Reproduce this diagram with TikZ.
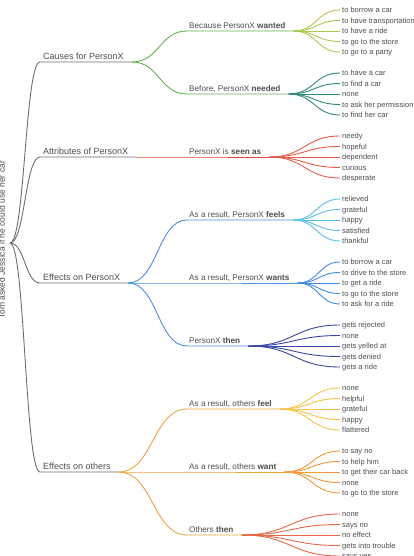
\documentclass[tikz,border=0pt]{standalone}
\usepackage{fontspec}
\setmainfont{Liberation Sans}
\usetikzlibrary{calc}

\definecolor{txtgray}{HTML}{4D4D4D}
\definecolor{rootgray}{HTML}{6E6E6E}
\definecolor{causegreen}{HTML}{62B14F}
\definecolor{wantlime}{HTML}{A7CB4D}
\definecolor{needteal}{HTML}{2E8B78}
\definecolor{attrred}{HTML}{E8473C}
\definecolor{seenred}{HTML}{E85B4B}
\definecolor{effblue}{HTML}{4A8FE0}
\definecolor{feelcyan}{HTML}{5CC0E8}
\definecolor{wantsblue}{HTML}{3E8EE8}
\definecolor{thenindigo}{HTML}{3846A8}
\definecolor{othorange}{HTML}{F0A33A}
\definecolor{ofeelgold}{HTML}{F6C445}
\definecolor{owantorange}{HTML}{F29838}
\definecolor{othenred}{HTML}{E8694A}

\begin{document}
\begin{tikzpicture}[
        x=1pt, y=-1pt,
        rootlabel/.style={rotate=90, anchor=base, inner sep=0pt, text=txtgray, font=\fontsize{8.5}{10}\selectfont},
        toplabel/.style={anchor=base west, inner sep=0pt, text=txtgray, font=\fontsize{9}{11}\selectfont},
        midlabel/.style={anchor=base west, inner sep=0pt, text=txtgray, font=\fontsize{8.2}{10}\selectfont},
        leaflabel/.style={anchor=base west, inner sep=0pt, text=txtgray, font=\fontsize{7.5}{9}\selectfont},
        link/.style={line width=0.9pt},
        sbranch/.style={to path={let \p1=(\tikztostart), \p2=(\tikztotarget), \n1={(\x2-\x1)/2} in .. controls ({\x1+\n1},\y1) and ({\x2-\n1},\y2) .. (\tikztotarget)}}
    ]
    \useasboundingbox (0,0) rectangle (413,556);
    \clip (0,0) rectangle (413,556);

    % Root
    \coordinate (root) at (10,243);
    \node[rootlabel] (rootT) at (5,240) {Tom asked Jessica if he could use her car};

    % First level
    \coordinate (causes) at (40,62);
    \node[toplabel] (causesT) at (43,59.5) {Causes for PersonX};
    \coordinate (causesJ) at ($(causesT.east |- causes)+(8,0)$);
    \coordinate (attr) at (40,157);
    \node[toplabel] (attrT) at (43,154.5) {Attributes of PersonX};
    \coordinate (attrJ) at ($(attrT.east |- attr)+(8,0)$);
    \coordinate (effx) at (40,283);
    \node[toplabel] (effxT) at (43,280.5) {Effects on PersonX};
    \coordinate (effxJ) at ($(effxT.east |- effx)+(8,0)$);
    \coordinate (effo) at (40,472);
    \node[toplabel] (effoT) at (43,469.5) {Effects on others};
    \coordinate (effoJ) at ($(effoT.east |- effo)+(8,0)$);

    \draw[link, rootgray] (root) to[sbranch] (causes) -- (causesJ);
    \draw[link, rootgray] (root) to[sbranch] (attr) -- (attrJ);
    \draw[link, rootgray] (root) to[sbranch] (effx) -- (effxJ);
    \draw[link, rootgray] (root) to[sbranch] (effo) -- (effoJ);

    % Second level
    \coordinate (wanted) at (187,31);
    \node[midlabel] (wantedT) at (189,28.3) {Because PersonX \textbf{wanted}};
    \coordinate (wantedJ) at ($(wantedT.east |- wanted)+(8,0)$);
    \coordinate (needed) at (187,94);
    \node[midlabel] (neededT) at (189,91.3) {Before, PersonX \textbf{needed}};
    \coordinate (neededJ) at ($(neededT.east |- needed)+(8,0)$);
    \coordinate (seen) at (187,157);
    \node[midlabel] (seenT) at (189,154.3) {PersonX is \textbf{seen as}};
    \coordinate (seenJ) at ($(seenT.east |- seen)+(8,0)$);
    \coordinate (feels) at (187,220);
    \node[midlabel] (feelsT) at (189,217.3) {As a result, PersonX \textbf{feels}};
    \coordinate (feelsJ) at ($(feelsT.east |- feels)+(8,0)$);
    \coordinate (wants) at (187,283);
    \node[midlabel] (wantsT) at (189,280.3) {As a result, PersonX \textbf{wants}};
    \coordinate (wantsJ) at ($(wantsT.east |- wants)+(8,0)$);
    \coordinate (then) at (187,346);
    \node[midlabel] (thenT) at (189,343.3) {PersonX \textbf{then}};
    \coordinate (thenJ) at ($(thenT.east |- then)+(8,0)$);
    \coordinate (ofeel) at (187,409);
    \node[midlabel] (ofeelT) at (189,406.3) {As a result, others \textbf{feel}};
    \coordinate (ofeelJ) at ($(ofeelT.east |- ofeel)+(8,0)$);
    \coordinate (owant) at (187,472);
    \node[midlabel] (owantT) at (189,469.3) {As a result, others \textbf{want}};
    \coordinate (owantJ) at ($(owantT.east |- owant)+(8,0)$);
    \coordinate (othen) at (187,535);
    \node[midlabel] (othenT) at (189,532.3) {Others \textbf{then}};
    \coordinate (othenJ) at ($(othenT.east |- othen)+(8,0)$);

    \draw[link, causegreen] (causesJ) to[sbranch] (wanted) -- (wantedJ);
    \draw[link, causegreen] (causesJ) to[sbranch] (needed) -- (neededJ);
    \draw[link, attrred] (attrJ) to[sbranch] (seen) -- (seenJ);
    \draw[link, effblue] (effxJ) to[sbranch] (feels) -- (feelsJ);
    \draw[link, effblue] (effxJ) to[sbranch] (wants) -- (wantsJ);
    \draw[link, effblue] (effxJ) to[sbranch] (then) -- (thenJ);
    \draw[link, othorange] (effoJ) to[sbranch] (ofeel) -- (ofeelJ);
    \draw[link, othorange] (effoJ) to[sbranch] (owant) -- (owantJ);
    \draw[link, othorange] (effoJ) to[sbranch] (othen) -- (othenJ);

    % Leaves
    \foreach \t [count=\i] in {to borrow a car, to have transportation, to have a ride, to go to the store, to go to a party} {
        \coordinate (wanted-\i) at (340,{31+10.5*\i-31.5});
        \node[leaflabel] (wantedT-\i) at (342,{31+10.5*\i-28.8}) {\t};
        \draw[link, wantlime] (wantedJ) to[sbranch] (wanted-\i);
    }
    \foreach \t [count=\i] in {to have a car, to find a car, none, to ask her permission, to find her car} {
        \coordinate (needed-\i) at (340,{94+10.5*\i-31.5});
        \node[leaflabel] (neededT-\i) at (342,{94+10.5*\i-28.8}) {\t};
        \draw[link, needteal] (neededJ) to[sbranch] (needed-\i);
    }
    \foreach \t [count=\i] in {needy, hopeful, dependent, curious, desperate} {
        \coordinate (seen-\i) at (340,{157+10.5*\i-31.5});
        \node[leaflabel] (seenT-\i) at (342,{157+10.5*\i-28.8}) {\t};
        \draw[link, seenred] (seenJ) to[sbranch] (seen-\i);
    }
    \foreach \t [count=\i] in {relieved, grateful, happy, satisfied, thankful} {
        \coordinate (feels-\i) at (340,{220+10.5*\i-31.5});
        \node[leaflabel] (feelsT-\i) at (342,{220+10.5*\i-28.8}) {\t};
        \draw[link, feelcyan] (feelsJ) to[sbranch] (feels-\i);
    }
    \foreach \t [count=\i] in {to borrow a car, to drive to the store, to get a ride, to go to the store, to ask for a ride} {
        \coordinate (wants-\i) at (340,{283+10.5*\i-31.5});
        \node[leaflabel] (wantsT-\i) at (342,{283+10.5*\i-28.8}) {\t};
        \draw[link, wantsblue] (wantsJ) to[sbranch] (wants-\i);
    }
    \foreach \t [count=\i] in {gets rejected, none, gets yelled at, gets denied, gets a ride} {
        \coordinate (then-\i) at (340,{346+10.5*\i-31.5});
        \node[leaflabel] (thenT-\i) at (342,{346+10.5*\i-28.8}) {\t};
        \draw[link, thenindigo] (thenJ) to[sbranch] (then-\i);
    }
    \foreach \t [count=\i] in {none, helpful, grateful, happy, flattered} {
        \coordinate (ofeel-\i) at (340,{409+10.5*\i-31.5});
        \node[leaflabel] (ofeelT-\i) at (342,{409+10.5*\i-28.8}) {\t};
        \draw[link, ofeelgold] (ofeelJ) to[sbranch] (ofeel-\i);
    }
    \foreach \t [count=\i] in {to say no, to help him, to get their car back, none, to go to the store} {
        \coordinate (owant-\i) at (340,{472+10.5*\i-31.5});
        \node[leaflabel] (owantT-\i) at (342,{472+10.5*\i-28.8}) {\t};
        \draw[link, owantorange] (owantJ) to[sbranch] (owant-\i);
    }
    \foreach \t [count=\i] in {none, says no, no effect, gets into trouble, says yes} {
        \coordinate (othen-\i) at (340,{535+10.5*\i-31.5});
        \node[leaflabel] (othenT-\i) at (342,{535+10.5*\i-28.8}) {\t};
        \draw[link, othenred] (othenJ) to[sbranch] (othen-\i);
    }

\end{tikzpicture}
\end{document}
